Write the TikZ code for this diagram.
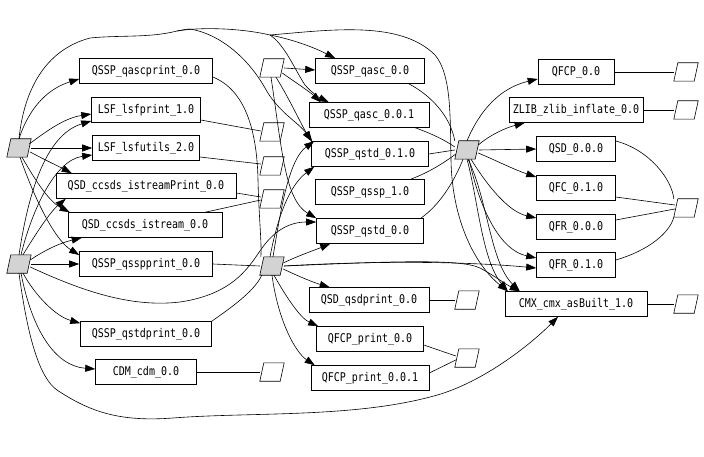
\documentclass[tikz,border=0pt]{standalone}
\usepackage{fontspec}
\usepackage{graphicx}
\setmonofont{DejaVu Sans Mono}
\usetikzlibrary{arrows.meta,calc}
\definecolor{grayfill}{RGB}{211,211,211}
\newcommand{\mkpara}[3]{\node[pbox] (#1) at (#2) {};
  \draw[line width=0.6pt, fill=#3] (#1.south west) -- ($(#1.south east)+(-4,0)$) -- (#1.north east) -- ($(#1.north west)+(4,0)$) -- cycle;}
\newcommand{\lbl}[1]{\scalebox{1}[1.2]{#1}}
\begin{document}
\begin{tikzpicture}[x=1pt,y=-1pt,
 box/.style={draw, line width=0.6pt, rectangle, minimum height=25pt, inner sep=0pt, font=\ttfamily\fontsize{10}{12}\selectfont},
 pbox/.style={rectangle, minimum width=24pt, minimum height=18pt, inner sep=0pt},
 edge/.style={line width=0.6pt},
 arr/.style={edge, -{Triangle[length=10pt,width=7pt]}}]
\useasboundingbox (0,0) rectangle (704,457);
% parallelograms
\mkpara{P1}{19,148}{grayfill}
\mkpara{P2}{19,264}{grayfill}
\mkpara{P3}{272,266}{grayfill}
\mkpara{P4}{467,150}{grayfill}
\mkpara{Wq}{272,68}{white}
\mkpara{W1}{272,132}{white}
\mkpara{W2}{272,166}{white}
\mkpara{W3}{272,199}{white}
\mkpara{W4}{272,372}{white}
\mkpara{W5}{467,300}{white}
\mkpara{W6}{467,358}{white}
\mkpara{R1}{686,72}{white}
\mkpara{R2}{686,110}{white}
\mkpara{R3}{686,208}{white}
\mkpara{R4}{686,304}{white}
% split points of the top arc
\coordinate (splitA) at (177,31);
\coordinate (splitB) at (270,35);
% column 1
\node[box, minimum width=133pt] (qascprint) at (146,71) {\lbl{QSSP\_qascprint\_0.0}};
\node[box, minimum width=109pt] (lsfprint) at (146,110) {\lbl{LSF\_lsfprint\_1.0}};
\node[box, minimum width=107pt] (lsfutils) at (146,148) {\lbl{LSF\_lsfutils\_2.0}};
\node[box, minimum width=180pt] (istreamPrint) at (146,186) {\lbl{QSD\_ccsds\_istreamPrint\_0.0}};
\node[box, minimum width=154pt] (istream) at (145,225) {\lbl{QSD\_ccsds\_istream\_0.0}};
\node[box, minimum width=133pt] (qsspprint) at (146,264) {\lbl{QSSP\_qsspprint\_0.0}};
\node[box, minimum width=131pt] (qstdprint) at (146,334) {\lbl{QSSP\_qstdprint\_0.0}};
\node[box, minimum width=101pt] (cdm) at (146,372) {\lbl{CDM\_cdm\_0.0}};
% column 2
\node[box, minimum width=109pt] (qasc00) at (370,71) {\lbl{QSSP\_qasc\_0.0}};
\node[box, minimum width=120pt] (qasc001) at (369,115) {\lbl{QSSP\_qasc\_0.0.1}};
\node[box, minimum width=117pt] (qstd010) at (370,154) {\lbl{QSSP\_qstd\_0.1.0}};
\node[box, minimum width=109pt] (qssp10) at (370,192) {\lbl{QSSP\_qssp\_1.0}};
\node[box, minimum width=107pt] (qstd00) at (370,231) {\lbl{QSSP\_qstd\_0.0}};
\node[box, minimum width=120pt] (qsdprint) at (369,300) {\lbl{QSD\_qsdprint\_0.0}};
\node[box, minimum width=107pt] (qfcpp00) at (370,339) {\lbl{QFCP\_print\_0.0}};
\node[box, minimum width=118pt] (qfcpp001) at (370,378) {\lbl{QFCP\_print\_0.0.1}};
% column 3
\node[box, minimum width=76pt] (qfcp) at (576,72) {\lbl{QFCP\_0.0}};
\node[box, minimum width=134pt] (zlib) at (576,110) {\lbl{ZLIB\_zlib\_inflate\_0.0}};
\node[box, minimum width=79pt] (qsd000) at (576,149) {\lbl{QSD\_0.0.0}};
\node[box, minimum width=79pt] (qfc010) at (576,188) {\lbl{QFC\_0.1.0}};
\node[box, minimum width=79pt] (qfr000) at (576,227) {\lbl{QFR\_0.0.0}};
\node[box, minimum width=79pt] (qfr010) at (576,265) {\lbl{QFR\_0.1.0}};
\node[box, minimum width=142pt] (cmx) at (576,304) {\lbl{CMX\_cmx\_asBuilt\_1.0}};
% P1 edges
\draw[arr] (P1.north) .. controls (30,105) and (50,88) .. ($(qascprint.west)+(0,8)$);
\draw[arr] ($(P1.east)+(-2,-4)$) .. controls (48,130) and (65,118) .. ($(lsfprint.west)+(0,4)$);
\draw[arr] (P1.east) -- (lsfutils.west);
\draw[arr] ($(P1.east)+(-1,4)$) .. controls (45,160) and (60,167) .. ($(istreamPrint.north west)+(16,0)$);
\draw[arr] ($(P1.south)+(3,0)$) .. controls (38,185) and (50,202) .. ($(istream.north west)+(2,0)$);
\draw[arr] ($(P1.south)+(1,0)$) .. controls (35,200) and (55,240) .. ($(qsspprint.west)+(0,-9)$);
\draw[arr] (P1.north) .. controls (24,90) and (45,50) .. (90,38) .. controls (120,35) and (150,38) .. (splitA) .. controls (200,27) and (240,28) .. (splitB) .. controls (295,40) and (315,48) .. ($(qasc00.north west)+(20,0)$);
\draw[arr] (splitB) .. controls (330,30) and (400,20) .. (435,55) .. controls (452,75) and (450,120) .. (451,160) .. controls (452,220) and (475,265) .. ($(cmx.north west)+(3,0)$);
\draw[arr] (splitA) .. controls (183,30) and (186,29) .. (190,29) .. controls (220,34) and (248,58) .. (265,88) .. controls (278,112) and (298,122) .. ($(qstd010.north west)+(1,0)$);
\draw[arr] (splitB) .. controls (285,45) and (295,70) .. (305,85) .. controls (312,93) and (320,98) .. ($(qasc001.north west)+(20,0)$);
% P2 edges
\draw[arr] (P2.north) .. controls (28,195) and (45,135) .. ($(lsfprint.west)+(0,11)$);
\draw[arr] ($(P2.north)+(2,0)$) .. controls (32,210) and (55,160) .. ($(lsfutils.west)+(0,7)$);
\draw[arr] ($(P2.north)+(4,0)$) .. controls (35,235) and (50,212) .. ($(istreamPrint.south west)+(10,0)$);
\draw[arr] ($(P2.east)+(-1,-4)$) .. controls (45,250) and (60,243) .. ($(istream.south west)+(14,0)$);
\draw[arr] (P2.east) -- (qsspprint.west);
\draw[arr] ($(P2.south)+(4,0)$) .. controls (35,295) and (55,316) .. ($(qstdprint.north west)+(0,2)$);
\draw[arr] ($(P2.south)+(2,0)$) .. controls (32,330) and (55,366) .. ($(cdm.west)+(0,-3)$);
\draw[arr] (P2.south) .. controls (28,340) and (40,378) .. (57,390) .. controls (90,412) and (120,422) .. (173,418) .. controls (250,412) and (350,418) .. (430,397) .. controls (480,385) and (530,345) .. ($(cmx.south)+(-18,0)$);
\draw[arr] ($(P2.east)+(-1,3)$) .. controls (80,290) and (130,308) .. (180,302) .. controls (235,294) and (250,265) .. (262,248) .. controls (275,230) and (290,222) .. ($(qstd00.west)+(0,-9)$);
% P3 edges
\draw[arr] ($(P3.north)+(-2,0)$) .. controls (278,215) and (290,185) .. ($(qstd010.south west)+(3,0)$);
\draw[arr] ($(P3.north)+(1,0)$) .. controls (280,215) and (288,160) .. ($(qstd010.north west)+(3,0)$);
\draw[arr] ($(P3.east)+(-1,-3)$) .. controls (300,255) and (315,250) .. ($(qstd00.south west)+(14,0)$);
\draw[arr] ($(P3.east)+(-1,3)$) .. controls (300,277) and (315,283) .. ($(qsdprint.north west)+(21,0)$);
\draw[arr] ($(P3.south)+(2,0)$) .. controls (285,295) and (300,318) .. ($(qfcpp00.north west)+(2,0)$);
\draw[arr] (P3.south) .. controls (278,320) and (295,352) .. ($(qfcpp001.north west)+(4,0)$);
\draw[arr] (P3.east) .. controls (350,262) and (450,260) .. ($(qfr010.west)+(0,3)$);
\draw[arr] (P3.east) .. controls (380,262) and (460,258) .. (480,268) .. controls (495,276) and (505,284) .. ($(cmx.north west)+(15,0)$);
% top parallelogram edges
\draw[arr] (Wq.east) -- ($(qasc00.west)+(0,-1)$);
\draw[arr] ($(Wq.east)+(-2,5)$) .. controls (295,82) and (310,92) .. ($(qasc001.north west)+(12,0)$);
\draw[arr] ($(Wq.south)+(4,0)$) .. controls (290,100) and (300,122) .. (qstd010.north west);
\draw[arr] ($(Wq.south)+(-1,0)$) .. controls (282,150) and (285,200) .. (qstd00.north west);
% column 2 to P4
\draw[edge] ($(qasc00.south east)+(-16,0)$) .. controls (430,95) and (450,115) .. (P4.north west);
\draw[edge] ($(qasc001.south east)+(-14,0)$) .. controls (430,133) and (445,140) .. ($(P4.west)+(0,-3)$);
\draw[edge] (qstd010.east) -- (P4.west);
\draw[edge] ($(qssp10.north east)+(-14,0)$) .. controls (430,172) and (445,162) .. ($(P4.west)+(1,4)$);
\draw[edge] ($(qstd00.north east)+(-3,0)$) .. controls (440,205) and (455,180) .. ($(P4.south)+(-4,0)$);
% P4 edges
\draw[arr] (P4.north) .. controls (480,110) and (500,88) .. ($(qfcp.west)+(0,7)$);
\draw[arr] ($(P4.east)+(-1,-5)$) .. controls (490,135) and (505,128) .. ($(zlib.south west)+(16,0)$);
\draw[arr] (P4.east) -- (qsd000.west);
\draw[arr] ($(P4.east)+(-1,3)$) .. controls (495,160) and (515,170) .. ($(qfc010.west)+(0,-11)$);
\draw[arr] ($(P4.south)+(4,0)$) .. controls (490,190) and (510,212) .. ($(qfr000.west)+(0,-9)$);
\draw[arr] ($(P4.south)+(2,0)$) .. controls (480,210) and (500,250) .. ($(qfr010.west)+(0,-7)$);
\draw[arr] (P4.south) .. controls (478,200) and (482,260) .. ($(cmx.north west)+(3,0)$);
\draw[arr] ($(P4.south)+(1,0)$) .. controls (488,200) and (490,262) .. ($(cmx.north west)+(15,0)$);
% column 2 to white parallelograms
\draw[edge] (qsdprint.east) -- (W5.west);
\draw[edge] ($(qfcpp00.east)+(0,6)$) -- ($(W6.west)+(1,-2)$);
\draw[edge] ($(qfcpp001.east)+(0,-5)$) -- ($(W6.west)+(1,2)$);
% column 3 to right parallelograms
\draw[edge] (qfcp.east) -- (R1.west);
\draw[edge] (zlib.east) -- (R2.west);
\draw[edge] ($(qsd000.east)+(0,-8)$) .. controls (650,150) and (672,180) .. (R3.north west);
\draw[edge] ($(qfc010.east)+(0,9)$) -- ($(R3.west)+(1,-3)$);
\draw[edge] ($(qfr000.east)+(0,-7)$) -- ($(R3.west)+(1,1)$);
\draw[edge] ($(qfr010.east)+(0,-5)$) .. controls (650,250) and (670,232) .. (R3.south west);
\draw[edge] (cmx.east) -- (R4.west);
% column 1 to middle parallelograms
\draw[edge] ($(qascprint.east)+(0,6)$) .. controls (245,90) and (257,130) .. (258,180) .. controls (259,220) and (262,245) .. ($(P3.north west)+(1,0)$);
\draw[edge] ($(lsfprint.east)+(0,10)$) -- ($(W1.west)+(1,-1)$);
\draw[edge] ($(lsfutils.east)+(0,9)$) -- ($(W2.west)+(1,-2)$);
\draw[edge] ($(istreamPrint.east)+(0,7)$) -- ($(W3.west)+(1,-2)$);
\draw[edge] ($(istream.north east)+(-17,0)$) -- ($(W3.west)+(1,1)$);
\draw[edge] (qsspprint.east) -- (P3.west);
\draw[edge] (qstdprint.north east) .. controls (235,305) and (255,290) .. ($(P3.south west)+(2,0)$);
\draw[edge] (cdm.east) -- (W4.west);
\end{tikzpicture}
\end{document}
